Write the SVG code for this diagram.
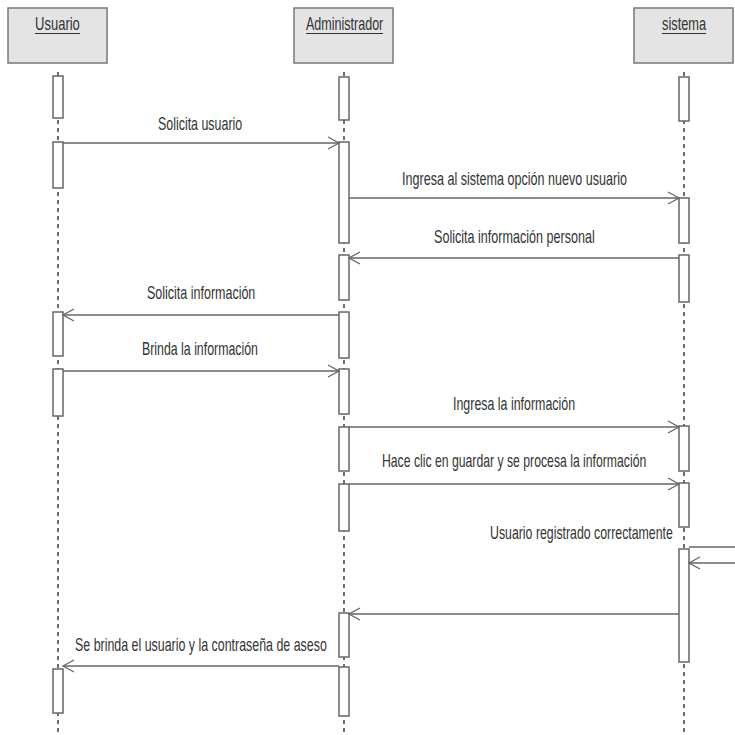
<svg xmlns="http://www.w3.org/2000/svg" width="735" height="735" viewBox="0 0 735 735">
  <style>
    .head { fill: #e4e4e4; stroke: #777; stroke-width: 1.5; }
    .life { stroke: #222; stroke-width: 1.3; stroke-dasharray: 4 4; fill: none; }
    .act { fill: #fff; stroke: #666; stroke-width: 1.5; }
    .msg { stroke: #666; stroke-width: 1.5; fill: none; marker-end: url(#open); }
    .line { stroke: #666; stroke-width: 1.5; fill: none; }
    .lbl { font-family: "Liberation Sans", Arial, sans-serif; font-size: 18px; fill: #333; }
    .ul { stroke: #333; stroke-width: 1.2; }
  </style>
  <defs>
    <marker id="open" markerUnits="userSpaceOnUse" markerWidth="14" markerHeight="16" viewBox="-12 -8 14 16" refX="0" refY="0" orient="auto">
      <path d="M-11,-6 L0,0 L-11,6" fill="none" stroke="#666" stroke-width="1.3"/>
    </marker>
  </defs>
  <rect width="735" height="735" fill="#fff"/>

  <!-- lifeline: Usuario -->
  <g id="usuario">
    <rect class="head" x="8" y="8" width="99" height="55"/>
    <text class="lbl" transform="matrix(0.69 0 0 1 35 30)" textLength="65" lengthAdjust="spacingAndGlyphs">Usuario</text>
    <line class="ul" x1="35" y1="33.5" x2="80" y2="33.5"/>
    <line class="life" x1="58" y1="72" x2="58" y2="735"/>
    <rect class="act" x="53" y="76" width="10" height="42"/>
    <rect class="act" x="53" y="142" width="10" height="46"/>
    <rect class="act" x="53" y="312" width="10" height="44"/>
    <rect class="act" x="53" y="369" width="10" height="47"/>
    <rect class="act" x="53" y="669" width="10" height="44"/>
  </g>

  <!-- lifeline: Administrador -->
  <g id="administrador">
    <rect class="head" x="294" y="8" width="99" height="55"/>
    <text class="lbl" transform="matrix(0.69 0 0 1 306 30)" textLength="112" lengthAdjust="spacingAndGlyphs">Administrador</text>
    <line class="ul" x1="306" y1="33.5" x2="383" y2="33.5"/>
    <line class="life" x1="344" y1="72" x2="344" y2="735"/>
    <rect class="act" x="339" y="77" width="10" height="43"/>
    <rect class="act" x="339" y="142" width="10" height="101"/>
    <rect class="act" x="339" y="255" width="10" height="45"/>
    <rect class="act" x="339" y="312" width="10" height="46"/>
    <rect class="act" x="339" y="369" width="10" height="45"/>
    <rect class="act" x="339" y="427" width="10" height="44"/>
    <rect class="act" x="339" y="484" width="10" height="47"/>
    <rect class="act" x="339" y="613" width="10" height="44"/>
    <rect class="act" x="339" y="667" width="10" height="49"/>
  </g>

  <!-- lifeline: sistema -->
  <g id="sistema">
    <rect class="head" x="634" y="8" width="99" height="55"/>
    <text class="lbl" transform="matrix(0.69 0 0 1 662 30)" textLength="64" lengthAdjust="spacingAndGlyphs">sistema</text>
    <line class="ul" x1="662" y1="33.5" x2="706" y2="33.5"/>
    <line class="life" x1="684" y1="72" x2="684" y2="735"/>
    <rect class="act" x="679" y="77" width="10" height="44"/>
    <rect class="act" x="679" y="198" width="10" height="45"/>
    <rect class="act" x="679" y="255" width="10" height="47"/>
    <rect class="act" x="679" y="426" width="10" height="45"/>
    <rect class="act" x="679" y="483" width="10" height="44"/>
    <rect class="act" x="679" y="549" width="10" height="113"/>
  </g>

  <!-- messages (labels drawn condensed to 0.69 horizontal scale) -->
  <g id="connectors">
    <line class="msg" x1="63" y1="143" x2="339" y2="143"/>
    <text class="lbl" transform="matrix(0.69 0 0 1 158 130)" textLength="122" lengthAdjust="spacingAndGlyphs">Solicita usuario</text>

    <line class="msg" x1="349" y1="198" x2="679" y2="198"/>
    <text class="lbl" transform="matrix(0.69 0 0 1 402 185)" textLength="326" lengthAdjust="spacingAndGlyphs">Ingresa al sistema opción nuevo usuario</text>

    <line class="msg" x1="679" y1="258" x2="349" y2="258"/>
    <text class="lbl" transform="matrix(0.69 0 0 1 434 243)" textLength="233" lengthAdjust="spacingAndGlyphs">Solicita información personal</text>

    <line class="msg" x1="339" y1="315" x2="63" y2="315"/>
    <text class="lbl" transform="matrix(0.69 0 0 1 147 299)" textLength="157" lengthAdjust="spacingAndGlyphs">Solicita información</text>

    <line class="msg" x1="63" y1="371" x2="339" y2="371"/>
    <text class="lbl" transform="matrix(0.69 0 0 1 142 355)" textLength="168" lengthAdjust="spacingAndGlyphs">Brinda la información</text>

    <line class="msg" x1="349" y1="427" x2="679" y2="427"/>
    <text class="lbl" transform="matrix(0.69 0 0 1 453 410)" textLength="177" lengthAdjust="spacingAndGlyphs">Ingresa la información</text>

    <line class="msg" x1="349" y1="484" x2="679" y2="484"/>
    <text class="lbl" transform="matrix(0.69 0 0 1 382 467)" textLength="383" lengthAdjust="spacingAndGlyphs">Hace clic en guardar y se procesa la información</text>

    <line class="line" x1="689" y1="547" x2="735" y2="547"/>
    <line class="msg" x1="735" y1="563" x2="689" y2="563"/>
    <text class="lbl" transform="matrix(0.69 0 0 1 490 539)" textLength="265" lengthAdjust="spacingAndGlyphs">Usuario registrado correctamente</text>

    <line class="msg" x1="679" y1="614" x2="349" y2="614"/>

    <line class="msg" x1="339" y1="666" x2="63" y2="666"/>
    <text class="lbl" transform="matrix(0.69 0 0 1 75 651)" textLength="365" lengthAdjust="spacingAndGlyphs">Se brinda el usuario y la contraseña de aseso</text>
  </g>
</svg>
